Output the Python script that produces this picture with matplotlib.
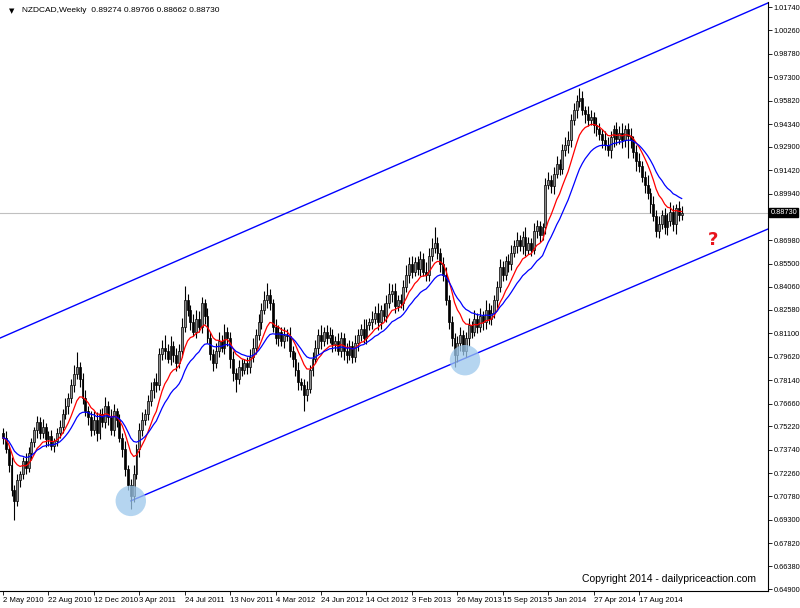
import matplotlib
matplotlib.use("Agg")
import matplotlib.pyplot as plt
import numpy as np
import pandas as pd
from matplotlib.patches import Rectangle

closes = [
0.745,0.738,0.728,0.712,0.705,0.718,0.722,0.730,0.726,0.735,
0.742,0.750,0.755,0.748,0.752,0.744,0.746,0.740,0.743,0.748,
0.752,0.760,0.765,0.770,0.778,0.785,0.790,0.782,0.770,0.762,
0.758,0.750,0.756,0.748,0.760,0.755,0.765,0.758,0.750,0.762,
0.756,0.745,0.738,0.725,0.715,0.708,0.722,0.738,0.750,0.756,
0.760,0.768,0.775,0.780,0.778,0.798,0.802,0.800,0.795,0.803,
0.797,0.792,0.800,0.815,0.832,0.826,0.818,0.812,0.820,0.815,
0.830,0.822,0.808,0.798,0.792,0.800,0.806,0.802,0.812,0.808,
0.795,0.786,0.782,0.790,0.788,0.792,0.790,0.796,0.802,0.810,
0.818,0.826,0.832,0.835,0.830,0.815,0.808,0.812,0.806,0.810,
0.809,0.800,0.795,0.788,0.780,0.778,0.772,0.776,0.788,0.795,
0.802,0.810,0.806,0.812,0.808,0.810,0.804,0.806,0.800,0.808,
0.800,0.797,0.803,0.796,0.805,0.810,0.814,0.808,0.816,0.818,
0.820,0.824,0.818,0.826,0.822,0.830,0.836,0.838,0.828,0.832,
0.830,0.840,0.848,0.855,0.850,0.856,0.852,0.858,0.850,0.848,
0.860,0.865,0.868,0.862,0.855,0.848,0.832,0.818,0.808,0.797,
0.805,0.810,0.800,0.808,0.816,0.812,0.820,0.815,0.822,0.818,
0.826,0.820,0.824,0.832,0.840,0.853,0.848,0.857,0.855,0.862,
0.866,0.870,0.866,0.872,0.864,0.868,0.864,0.876,0.879,0.873,
0.878,0.905,0.908,0.904,0.912,0.918,0.915,0.927,0.930,0.933,
0.946,0.952,0.958,0.960,0.952,0.950,0.946,0.948,0.943,0.940,
0.937,0.933,0.930,0.927,0.935,0.940,0.934,0.938,0.933,0.940,
0.936,0.933,0.926,0.920,0.917,0.910,0.905,0.900,0.893,0.885,
0.876,0.880,0.886,0.878,0.882,0.888,0.880,0.890,0.886,0.8873]
first_open = 0.748
# wick extensions in thousandths
wick_up = [
3,4,2,5,3,4,2,3,5,4, 3,2,4,3,5,2,3,4,2,3, 4,3,5,3,4,6,9,3,4,5,
3,4,6,5,3,4,6,3,5,4, 2,4,3,5,3,4,6,3,4,5, 3,4,5,3,6,4,5,8,4,6,
3,5,4,6,9,4,3,5,6,5, 4,3,5,4,3,5,6,4,5,3, 4,5,3,4,5,3,4,5,6,4,
5,4,6,8,4,3,5,4,3,5, 4,6,3,4,5,3,4,5,3,4, 5,4,6,3,4,5,4,3,5,4,
3,5,4,3,5,4,3,6,4,3, 5,4,6,3,4,5,7,4,5,3, 4,5,6,4,5,3,4,5,4,6,
5,6,10,4,3,4,5,3,4,3, 4,5,3,4,5,3,6,4,5,3, 6,4,5,3,4,5,4,3,4,5,
4,5,3,4,6,4,3,5,4,3, 3,4,5,3,4,5,3,4,5,6, 4,5,4,6,4,3,5,4,3,5,
4,3,6,5,4,3,5,4,6,3, 4,5,3,4,5,3,4,6,3,5, 4,5,3,4,5,6,4,3,5,4]
wick_dn = [
4,3,5,4,12,3,4,3,4,3, 4,3,5,4,3,5,4,3,4,3, 3,4,3,5,3,4,3,5,4,3,
5,4,3,5,4,3,4,5,3,4, 4,3,5,4,3,8,4,3,5,4, 3,4,3,5,4,3,4,5,3,4,
4,5,3,4,3,4,5,3,4,3, 4,5,3,4,5,3,4,3,4,5, 6,5,8,3,4,3,5,4,3,4,
3,4,3,5,4,3,4,5,3,4, 3,4,5,4,5,3,10,4,3,4, 3,4,5,3,4,3,5,4,3,4,
6,5,3,4,3,5,4,3,4,3, 4,3,5,4,3,4,3,5,4,3, 3,4,3,5,4,3,4,5,3,4,
4,3,3,4,5,4,3,4,5,7, 4,5,3,4,5,4,3,4,3,5, 4,3,4,3,5,3,4,3,5,4,
3,4,3,5,4,3,4,3,5,4, 3,4,3,4,5,3,4,3,4,5, 4,3,5,4,3,6,4,3,5,4,
4,5,3,4,5,6,4,3,5,4, 14,5,4,6,4,3,5,4,6,3, 4,5,3,4,5,3,4,6,4,3]

tick_labels = ["2 May 2010","22 Aug 2010","12 Dec 2010","3 Apr 2011","24 Jul 2011",
"13 Nov 2011","4 Mar 2012","24 Jun 2012","14 Oct 2012","3 Feb 2013","26 May 2013",
"15 Sep 2013","5 Jan 2014","27 Apr 2014","17 Aug 2014"]
tick_bars = [16*i for i in range(len(tick_labels))]
price_ticks = [1.01740,1.00260,0.98780,0.97300,0.95820,0.94340,0.92900,0.91420,0.89940,
0.86980,0.85500,0.84060,0.82580,0.81100,0.79620,0.78140,0.76660,0.75220,0.73740,
0.72260,0.70780,0.69300,0.67820,0.66380,0.64900]
upper_line = ([-1.06, 269.4], [0.808, 1.020])
lower_line = ([45, 269.4], [0.705, 0.877])
circles = ([45, 162.7], [0.705, 0.794])
last_price = 0.88730

plt.rcParams["font.family"] = ["Liberation Sans", "DejaVu Sans"]

n = len(closes)
c = np.array(closes)
o = np.concatenate([[first_open], c[:-1]])
h = np.maximum(o, c) + np.array(wick_up[:n]) / 1000
l = np.minimum(o, c) - np.array(wick_dn[:n]) / 1000
x = np.arange(n)

fig = plt.figure(figsize=(8, 6.08), dpi=100)
ax = fig.add_axes([0, 1 - 591/608, 768/800, 589/608])
ax.set_xlim(-1.06, 269.4)
ax.set_ylim(0.6480, 1.0206)

ax.axhline(last_price, color="#c0c0c0", lw=0.8, zorder=1)
ax.vlines(x, l, h, color="black", lw=0.8, zorder=3)
for i in range(n):
    bull = c[i] >= o[i]
    ax.add_patch(Rectangle((i - 0.33, min(o[i], c[i])), 0.66, max(abs(c[i]-o[i]), 0.0005),
                 facecolor="#8c8c8c" if bull else "black", edgecolor="black", lw=0.5, zorder=4))

s = pd.Series(c)
ax.plot(x, s.ewm(span=10, adjust=False).mean(), color="red", lw=0.9, zorder=5)
ax.plot(x, s.ewm(span=20, adjust=False).mean(), color="blue", lw=0.9, zorder=5)

ax.plot(*upper_line, color="blue", lw=1, zorder=2)
ax.plot(*lower_line, color="blue", lw=1, zorder=2)
ax.scatter(*circles, s=480, color="#9cc8ec", alpha=0.75, zorder=6, edgecolors="none")

ax.text(250, 0.870, "?", color="#e8141c", fontsize=13, fontweight="bold", ha="center", va="center",
        family="DejaVu Sans")

ax.yaxis.tick_right()
ax.set_yticks(price_ticks)
ax.set_yticklabels([f"{p:.5f}" for p in price_ticks], fontsize=5.3)
ax.set_xticks(tick_bars)
ax.set_xticklabels(tick_labels, fontsize=5.6, ha="left")
ax.tick_params(axis="both", length=3, width=0.6, pad=1.2)
for sp in ["top", "left"]:
    ax.spines[sp].set_visible(False)
ax.text(1.003, last_price, f"{last_price:.5f}", transform=ax.get_yaxis_transform(),
        fontsize=5.3, color="white", va="center", ha="left",
        bbox=dict(boxstyle="square,pad=0.12", fc="black", ec="black"))
ax.text(0.012, 0.985, "\u25bc", transform=ax.transAxes, fontsize=5, va="center", ha="left",
        family="DejaVu Sans")
ax.text(0.028, 0.985, "NZDCAD,Weekly  0.89274 0.89766 0.88662 0.88730", transform=ax.transAxes,
        fontsize=6, va="center", ha="left")
ax.text(0.985, 0.012, "Copyright 2014 - dailypriceaction.com", transform=ax.transAxes,
        fontsize=7.5, va="bottom", ha="right")
fig.savefig("out.png", dpi=100)
